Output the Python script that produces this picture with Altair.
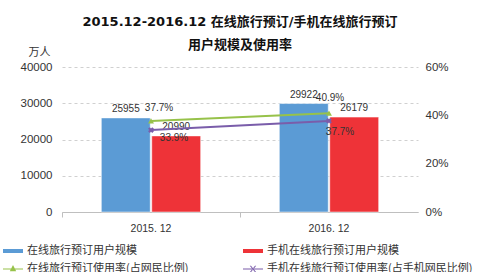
import altair as alt
import pandas as pd

categories = ["2015. 12", "2016. 12"]
series_names = [
    "在线旅行预订用户规模",
    "手机在线旅行预订用户规模",
    "在线旅行预订使用率(占网民比例)",
    "手机在线旅行预订使用率(占手机网民比例)",
]
online_users = [25955, 29922]
mobile_users = [20990, 26179]
online_rate = [0.377, 0.409]
mobile_rate = [0.339, 0.377]
colors = ["#5B9BD5", "#EE3338", "#97C24A", "#7A5DAA"]

CJK = "Noto Sans CJK SC"
NUM = "Liberation Sans, Noto Sans CJK SC"

bars_df = pd.DataFrame({
    "cat": categories * 2,
    "series": [series_names[0]] * 2 + [series_names[1]] * 2,
    "value": online_users + mobile_users,
})
rates_df = pd.DataFrame({
    "cat": categories * 2,
    "series": [series_names[2]] * 2 + [series_names[3]] * 2,
    "rate": online_rate + mobile_rate,
    "label": [f"{v * 100:.1f}%" for v in online_rate + mobile_rate],
})
legend_df = pd.DataFrame({"series": series_names})

bar_path = "M-1,-0.2H1V0.2H-1Z"
tri_path = "M-1,-0.06H1V0.06H-1Z M0,-0.4L0.32,0.22H-0.32Z"
x_path = ("M-1,-0.06H1V0.06H-1Z M-0.32,-0.32L-0.2,-0.32L0.32,0.32L0.2,0.32Z "
          "M0.32,-0.32L0.2,-0.32L-0.32,0.32L-0.2,0.32Z")
shape_paths = [bar_path, bar_path, tri_path, x_path]

leg = alt.Legend(
    orient="none", legendX=-59, legendY=174, columns=2, columnPadding=54,
    rowPadding=3, symbolSize=400, symbolStrokeWidth=0, symbolOpacity=1,
    labelFont=CJK, labelFontSize=11, labelColor="#333333", labelLimit=300,
    labelOffset=4, title=None, direction="horizontal",
)
cscale = alt.Scale(domain=series_names, range=colors)
color_enc = alt.Color("series:N", scale=cscale, title=None, legend=leg)

x_enc = alt.X(
    "cat:N",
    scale=alt.Scale(domain=categories, paddingInner=0, paddingOuter=0),
    axis=alt.Axis(
        title=None, labelAngle=0, labelFont=NUM, labelFontSize=10.5,
        labelColor="#333333", domainColor="#BFBFBF", tickColor="#BFBFBF",
        tickSize=5, bandPosition=0, labelPadding=6,
    ),
)
xoff = alt.XOffset(
    "series:N",
    scale=alt.Scale(domain=series_names[:2], paddingInner=0.03, paddingOuter=0.78),
)
y_left = alt.Y(
    "value:Q",
    scale=alt.Scale(domain=[0, 40000]),
    axis=alt.Axis(
        values=[0, 10000, 20000, 30000, 40000], format="d", title="万人", titleAngle=0,
        titleX=-23, titleY=-15, titleAlign="center", titleBaseline="middle",
        titleFont=CJK, titleFontSize=11, titleFontWeight="normal", titleColor="#333333",
        labelFont=NUM, labelFontSize=11.5, labelColor="#333333", labelPadding=10,
        domain=False, ticks=False, grid=True, gridColor="#D0D0D0", gridDash=[3, 3],
    ),
)
y_right = alt.Y(
    "rate:Q",
    scale=alt.Scale(domain=[0, 0.6]),
    axis=alt.Axis(
        orient="right", values=[0, 0.2, 0.4, 0.6], format=".0%", title=None,
        labelFont=NUM, labelFontSize=11.5, labelColor="#333333", labelPadding=7,
        domain=False, ticks=False, grid=False,
    ),
)

bar_base = alt.Chart(bars_df)
bars = bar_base.mark_bar(stroke="white", strokeWidth=0.5).encode(
    x=x_enc, xOffset=xoff, y=y_left, color=color_enc
)
bar_text = bar_base.mark_text(
    baseline="bottom", dy=-4, font=NUM, fontSize=10, color="#333333"
).encode(x=x_enc, xOffset=xoff, y=y_left, text=alt.Text("value:Q", format="d"))

left = alt.layer(bars, bar_text)

rate_base = alt.Chart(rates_df)
lines = rate_base.mark_line(strokeWidth=2).encode(x=x_enc, y=y_right, color=color_enc)
tri = rate_base.mark_point(shape="triangle-up", filled=True, size=35, opacity=1).encode(
    x=x_enc, y=y_right, color=color_enc
).transform_filter(alt.datum.series == series_names[2])
crs = rate_base.mark_point(shape="cross", angle=45, filled=True, size=35, opacity=1).encode(
    x=x_enc, y=y_right, color=color_enc
).transform_filter(alt.datum.series == series_names[3])


def pct_label(series, cat, dx, dy):
    return rate_base.mark_text(
        dx=dx, dy=dy, font=NUM, fontSize=10, color="#333333", baseline="middle"
    ).encode(x=x_enc, y=y_right, text="label:N").transform_filter(
        (alt.datum.series == series) & (alt.datum.cat == cat)
    )


labels = [
    pct_label(series_names[2], categories[0], 8, -13),
    pct_label(series_names[2], categories[1], 1, -15),
    pct_label(series_names[3], categories[0], 23, 8),
    pct_label(series_names[3], categories[1], 11, 11),
]

legend_layer = alt.Chart(legend_df).mark_point(filled=True, opacity=0).encode(
    color=color_enc,
    shape=alt.Shape("series:N", scale=alt.Scale(domain=series_names, range=shape_paths),
                    title=None, legend=leg),
)

right = alt.layer(lines, tri, crs, *labels, legend_layer)

chart = alt.layer(left, right).resolve_scale(y="independent").properties(
    width=356,
    height=145,
    autosize=alt.AutoSizeParams(type="none"),
    padding={"left": 62, "top": 67, "right": 68, "bottom": 60},
    background="white",
    title=alt.TitleParams(
        text=["2015.12-2016.12 在线旅行预订/手机在线旅行预订", "用户规模及使用率"],
        font="DejaVu Sans, Noto Sans CJK SC", fontSize=13, fontWeight="bold",
        anchor="middle", lineHeight=23, color="#111111", offset=-6,
    ),
).configure_view(stroke=None)

chart.save("out.html", embed_options={"renderer": "svg", "actions": False})
